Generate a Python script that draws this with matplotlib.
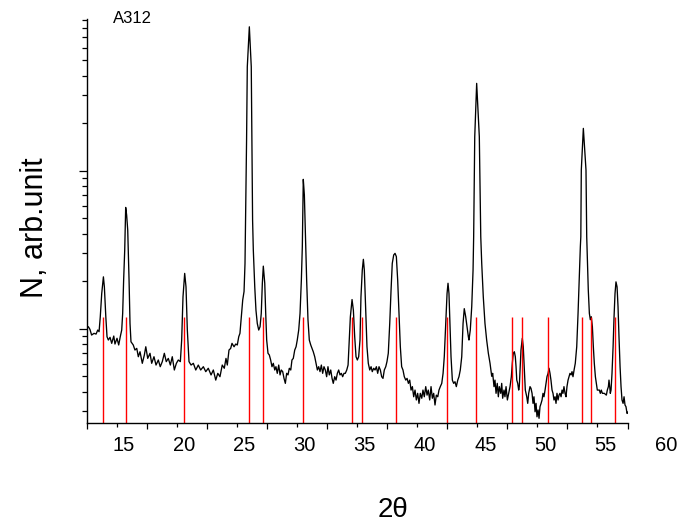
import matplotlib
matplotlib.use("Agg")
import matplotlib.pyplot as plt
import matplotlib.transforms as mtransforms

# pattern (2theta in degrees, counts in arb. units)
two_theta = [
    11.93, 12.04, 12.17, 12.31, 12.51, 12.68, 12.82, 12.93, 13.03, 13.15,
    13.29, 13.37, 13.49, 13.59, 13.70, 13.84, 13.98, 14.15, 14.25, 14.42,
    14.56, 14.69, 14.81, 14.89, 14.97, 15.06, 15.14, 15.22, 15.31, 15.42,
    15.50, 15.58, 15.77, 15.91, 16.06, 16.19, 16.33, 16.52, 16.69, 16.81,
    16.97, 17.16, 17.30, 17.49, 17.66, 17.85, 18.01, 18.18, 18.35, 18.51,
    18.68, 18.85, 19.01, 19.18, 19.35, 19.51, 19.68, 19.79, 19.90, 20.04,
    20.15, 20.26, 20.40, 20.57, 20.76, 20.96, 21.17, 21.37, 21.59, 21.79,
    22.00, 22.23, 22.42, 22.62, 22.79, 22.97, 23.16, 23.33, 23.47, 23.58,
    23.72, 23.86, 23.97, 24.14, 24.28, 24.41, 24.53, 24.63, 24.74, 24.86,
    24.97, 25.05, 25.12, 25.18, 25.24, 25.41, 25.57, 25.63, 25.68, 25.74,
    25.86, 25.96, 26.07, 26.19, 26.30, 26.40, 26.49, 26.57, 26.69, 26.77,
    26.85, 26.96, 27.07, 27.18, 27.29, 27.40, 27.52, 27.62, 27.73, 27.85,
    27.96, 28.06, 28.18, 28.29, 28.40, 28.51, 28.62, 28.73, 28.85, 28.95,
    29.06, 29.18, 29.29, 29.39, 29.51, 29.62, 29.73, 29.81, 29.85, 29.89,
    29.98, 30.06, 30.17, 30.28, 30.39, 30.51, 30.62, 30.72, 30.84, 30.95,
    31.06, 31.17, 31.28, 31.39, 31.50, 31.61, 31.72, 31.83, 31.94, 32.05,
    32.17, 32.28, 32.38, 32.50, 32.61, 32.72, 32.83, 32.94, 33.05, 33.16,
    33.27, 33.38, 33.50, 33.61, 33.71, 33.80, 33.94, 34.05, 34.16, 34.27,
    34.38, 34.49, 34.60, 34.68, 34.79, 34.88, 34.96, 35.08, 35.18, 35.29,
    35.41, 35.52, 35.62, 35.74, 35.85, 35.96, 36.07, 36.18, 36.29, 36.40,
    36.51, 36.62, 36.74, 36.84, 36.95, 37.07, 37.18, 37.28, 37.40, 37.51,
    37.62, 37.73, 37.84, 37.95, 38.06, 38.17, 38.28, 38.40, 38.51, 38.62,
    38.73, 38.84, 38.95, 39.06, 39.17, 39.28, 39.39, 39.50, 39.61, 39.73,
    39.83, 39.94, 40.06, 40.17, 40.27, 40.39, 40.50, 40.61, 40.72, 40.83,
    40.94, 41.06, 41.16, 41.27, 41.39, 41.50, 41.60, 41.72, 41.83, 41.91,
    41.99, 42.08, 42.16, 42.27, 42.38, 42.49, 42.60, 42.72, 42.82, 42.93,
    43.05, 43.16, 43.26, 43.38, 43.49, 43.60, 43.65, 43.76, 43.88, 43.99,
    44.04, 44.13, 44.29, 44.51, 44.63, 44.71, 44.84, 44.98, 45.12, 45.26,
    45.40, 45.54, 45.62, 45.73, 45.81, 45.90, 46.00, 46.09, 46.17, 46.29,
    46.37, 46.45, 46.56, 46.64, 46.73, 46.84, 46.95, 47.06, 47.17, 47.25,
    47.33, 47.42, 47.50, 47.56, 47.62, 47.70, 47.78, 47.83, 47.89, 47.97,
    48.08, 48.16, 48.25, 48.33, 48.45, 48.53, 48.61, 48.72, 48.80, 48.89,
    48.97, 49.05, 49.14, 49.22, 49.30, 49.39, 49.47, 49.55, 49.64, 49.72,
    49.80, 49.88, 49.97, 50.05, 50.13, 50.22, 50.30, 50.38, 50.46, 50.55,
    50.63, 50.71, 50.80, 50.88, 50.96, 51.05, 51.13, 51.21, 51.30, 51.38,
    51.46, 51.54, 51.63, 51.71, 51.79, 51.88, 51.96, 52.04, 52.13, 52.21,
    52.29, 52.38, 52.48, 52.60, 52.71, 52.82, 52.90, 52.94, 52.98, 53.15,
    53.37, 53.43, 53.48, 53.56, 53.65, 53.73, 53.81, 53.90, 53.98, 54.06,
    54.15, 54.23, 54.31, 54.48, 54.56, 54.64, 54.73, 54.89, 55.06, 55.14,
    55.23, 55.28, 55.34, 55.39, 55.45, 55.53, 55.62, 55.70, 55.78, 55.86,
    55.95, 56.03, 56.11, 56.20, 56.28, 56.36, 56.45, 56.53, 56.61, 56.69,
    56.78, 56.86,
]
counts = [
    101, 103, 99.1, 91.2, 93.5, 92.5, 98.1, 95.8, 119, 167,
    213, 184, 119, 89.0, 84.8, 88.2, 80.8, 89.9, 80.0, 87.0,
    78.9, 89.0, 98.1, 125, 203, 315, 586, 524, 421, 203,
    108, 82.7, 78.9, 73.3, 75.1, 66.5, 71.5, 60.4, 68.2, 76.9,
    64.9, 69.9, 60.4, 66.5, 58.9, 63.4, 57.5, 61.9, 69.9, 61.9,
    64.9, 58.9, 66.5, 54.8, 60.4, 63.4, 61.9, 84.8, 159, 224,
    184, 98.1, 61.9, 58.9, 60.4, 54.8, 58.9, 54.8, 57.5, 53.5,
    56.2, 51.0, 54.8, 47.3, 52.2, 49.7, 58.9, 56.2, 64.9, 58.9,
    73.3, 75.1, 80.8, 76.9, 80.0, 78.9, 89.0, 93.5, 119, 152,
    172, 259, 653, 1563, 4550, 8147, 4550, 1352, 487, 315,
    184, 131, 108, 98.1, 103, 125, 194, 249, 194, 125,
    84.8, 69.9, 68.2, 63.4, 57.5, 60.4, 54.8, 57.5, 52.2, 58.9,
    51.0, 54.8, 53.5, 48.5, 45.1, 52.2, 51.0, 56.2, 54.8, 63.4,
    64.9, 73.3, 76.9, 84.8, 98.1, 125, 203, 330, 564, 882,
    702, 421, 203, 114, 84.8, 78.9, 75.1, 71.5, 66.5, 60.4,
    54.8, 57.5, 53.5, 58.9, 52.2, 57.5, 54.8, 49.7, 57.5, 51.0,
    54.8, 48.5, 45.1, 49.7, 47.3, 52.2, 54.8, 51.0, 52.2, 49.7,
    52.2, 52.2, 54.8, 58.9, 84.8, 119, 153, 131, 89.0, 66.5,
    63.4, 66.5, 84.8, 159, 235, 275, 235, 125, 76.9, 60.4,
    54.8, 57.5, 53.5, 56.2, 54.8, 57.5, 52.2, 57.5, 54.8, 49.7,
    48.5, 54.8, 57.5, 61.9, 69.9, 108, 176, 259, 293, 300,
    286, 203, 125, 76.9, 57.5, 54.8, 49.7, 47.3, 48.5, 45.1,
    47.3, 40.9, 43.0, 37.1, 40.9, 35.4, 39.0, 33.7, 39.0, 36.3,
    40.9, 37.1, 43.0, 38.0, 40.9, 35.4, 43.0, 36.3, 39.0, 32.9,
    38.0, 37.1, 40.9, 43.0, 45.1, 52.2, 66.5, 108, 167, 194,
    167, 103, 66.5, 47.3, 45.1, 46.2, 43.0, 47.3, 49.7, 54.8,
    66.5, 108, 134, 119, 103, 89.0, 84.8, 98.1, 138, 235,
    382, 1641, 3573, 1641, 382, 259, 159, 108, 84.8, 69.9,
    60.4, 50.0, 52.2, 43.0, 47.3, 39.0, 45.1, 37.1, 43.0, 39.0,
    45.1, 36.3, 40.9, 37.1, 43.0, 35.4, 39.0, 43.0, 49.7, 60.4,
    69.9, 71.5, 66.5, 57.5, 47.3, 45.1, 40.9, 43.0, 54.8, 73.3,
    87.0, 76.9, 54.8, 40.9, 37.1, 33.7, 39.0, 43.0, 42.0, 39.0,
    33.7, 37.1, 29.8, 33.7, 27.7, 30.6, 27.1, 32.1, 33.7, 35.4,
    39.0, 37.1, 40.9, 45.1, 49.7, 52.2, 56.2, 52.2, 47.3, 40.9,
    39.0, 35.4, 37.1, 33.7, 39.0, 35.4, 38.0, 39.0, 37.1, 40.9,
    39.0, 43.0, 39.0, 37.1, 43.0, 47.3, 49.7, 52.2, 51.0, 53.5,
    49.7, 54.8, 60.4, 76.9, 125, 224, 330, 382, 1010, 1854,
    1010, 382, 286, 176, 125, 114, 119, 103, 76.9, 60.4,
    49.7, 45.1, 40.9, 40.9, 39.0, 40.9, 39.0, 39.0, 38.0, 40.9,
    43.0, 47.3, 43.0, 39.0, 40.9, 52.2, 76.9, 119, 167, 198,
    184, 138, 89.0, 57.5, 43.0, 35.4, 33.7, 37.1, 32.9, 32.1,
    29.1, 29.7,
]

# reference reflections (red sticks)
ref_positions = [13.23, 15.14, 20.01, 25.36, 26.55, 29.84, 33.91, 34.79,
                 37.57, 41.83, 44.22, 47.25, 48.03, 50.22, 53.02, 53.76, 55.76]
ref_height = 119

tick_labels = [15, 20, 25, 30, 35, 40, 45, 50, 55, 60]

plt.rcParams["font.family"] = ["Liberation Sans", "DejaVu Sans"]

fig = plt.figure(figsize=(6.81, 5.24), dpi=100)
ax = fig.add_axes([0.1278, 0.1927, 0.7944, 0.7706])
ax.set_yscale("log")
ax.set_xlim(11.93, 56.86)
ax.set_ylim(25.3, 9100)

ax.plot(two_theta, counts, color="black", lw=0.95)
ax.vlines(ref_positions, ax.get_ylim()[0], ref_height, color="red", lw=1.0)

for side in ["top", "right"]:
    ax.spines[side].set_visible(False)
for side in ["left", "bottom"]:
    ax.spines[side].set_linewidth(1.0)

# tick marks run on their own 2.5 degree grid from the left end of the axis
ax.set_xticks([11.93, 16.91, 21.89, 26.88, 31.86, 36.85, 41.83, 46.81, 51.80, 56.86])
ax.set_xticks([14.42, 19.40, 24.39, 29.37, 34.35, 39.34, 44.32, 49.30, 54.29], minor=True)
ax.tick_params(axis="x", which="major", direction="out", length=4.5, width=0.9, labelbottom=False)
ax.tick_params(axis="x", which="minor", direction="out", length=3.0, width=0.9)
ax.tick_params(axis="y", which="major", direction="out", length=6.0, width=0.9, labelleft=False)
ax.tick_params(axis="y", which="minor", direction="out", length=3.6, width=0.9, labelleft=False)

trans = mtransforms.blended_transform_factory(ax.transData, fig.transFigure)
for v in tick_labels:
    ax.text(v, 1 - 436 / 524, str(v), transform=trans, ha="center", va="top",
            fontsize=14.5, clip_on=False)

fig.text(393 / 681, 1 - 510 / 524, "2θ", ha="center", va="center", fontsize=20)
fig.text(35 / 681, 1 - 228 / 524, "N, arb.unit", ha="center", va="center",
         rotation=90, fontsize=22)
fig.text(113 / 681, 1 - 18.5 / 524, "A312", ha="left", va="center", fontsize=12)

fig.savefig("out.png", dpi=100)
